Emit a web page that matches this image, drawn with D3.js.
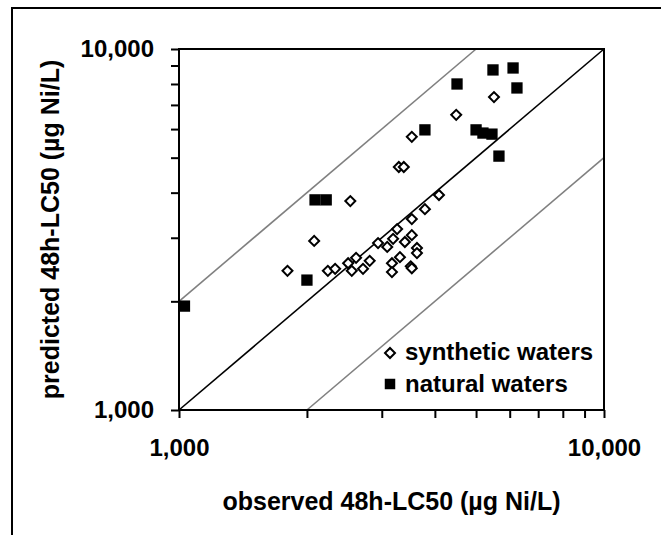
<!DOCTYPE html>
<html>
<head>
<meta charset="utf-8">
<script src="https://cdn.jsdelivr.net/npm/d3@7"></script>
<style>
  body { margin: 0; background: #fff; }
  svg { display: block; }
  text { font-family: "Liberation Sans", Arial, sans-serif; font-weight: bold; fill: #000; }
</style>
</head>
<body>
<svg id="chart" width="661" height="535"></svg>
<script>
// observed vs predicted 48h-LC50 (ug Ni/L)
var synthObserved  = [5510, 4490, 3530, 3290, 3380, 2530, 4090, 3790, 3530, 3260, 2080, 1800, 2240, 2330, 2500, 2550,
                      2610, 3190, 2940, 3090, 3400, 3530, 3630, 3630, 3310, 3170, 3170, 3510, 3530, 2810, 2710];
var synthPredicted = [7360, 6570, 5710, 4710, 4710, 3790, 3940, 3600, 3380, 3170, 2940, 2430, 2430, 2460, 2550, 2430,
                      2640, 2980, 2900, 2830, 2920, 3050, 2810, 2720, 2650, 2550, 2410, 2500, 2470, 2590, 2460];
var natObserved  = [5480, 6110, 4510, 6240, 3790, 5000, 5190, 5450, 5660, 2090, 2220, 2000, 1030];
var natPredicted = [8750, 8860, 8000, 7800, 5970, 5970, 5850, 5810, 5050, 3820, 3820, 2290, 1940];

var axisDomain = [1000, 10000];
var tickValues = [1000, 2000, 3000, 4000, 5000, 6000, 7000, 8000, 9000, 10000];
var labelledTicks = [1000, 10000];
var ratioLines = [0.5, 1, 2];   // predicted = ratio * observed

var svg = d3.select("#chart");

// outer chart border (runs off the right and bottom edge)
svg.append("rect")
    .attr("x", 12).attr("y", 8)
    .attr("width", 700).attr("height", 600)
    .attr("fill", "none").attr("stroke", "#000").attr("stroke-width", 2);

var pLeft = 179, pRight = 604, pTop = 49, pBottom = 410;

var x = d3.scaleLog().domain(axisDomain).range([pLeft, pRight]);
var y = d3.scaleLog().domain(axisDomain).range([pBottom, pTop]);

var fmt = d3.format(",");
var tickFmt = d => labelledTicks.includes(d) ? fmt(d) : "";

// x axis
var gx = svg.append("g")
    .attr("transform", `translate(0,${pBottom})`)
    .call(d3.axisBottom(x).tickValues(tickValues).tickFormat(tickFmt)
        .tickSize(8).tickSizeOuter(0).tickPadding(21));
gx.select(".domain").remove();
gx.selectAll("line").attr("stroke-width", 2);
gx.selectAll("text").attr("font-size", 24);

// y axis
var gy = svg.append("g")
    .attr("transform", `translate(${pLeft},0)`)
    .call(d3.axisLeft(y).tickValues(tickValues).tickFormat(tickFmt)
        .tickSize(8).tickSizeOuter(0).tickPadding(17));
gy.select(".domain").remove();
gy.selectAll("line").attr("stroke-width", 2);
gy.selectAll("text").attr("font-size", 24);

// ratio lines (1:1 black, 2x gray)
var clipped = ratioLines.map(r => {
    var x0 = Math.max(axisDomain[0], axisDomain[0] / r);
    var x1 = Math.min(axisDomain[1], axisDomain[1] / r);
    return {r: r, pts: [[x0, x0 * r], [x1, x1 * r]]};
});
svg.append("g")
    .selectAll("line")
    .data(clipped)
    .join("line")
    .attr("x1", d => x(d.pts[0][0])).attr("y1", d => y(d.pts[0][1]))
    .attr("x2", d => x(d.pts[1][0])).attr("y2", d => y(d.pts[1][1]))
    .attr("stroke", d => d.r === 1 ? "#000" : "#808080")
    .attr("stroke-width", 1.6);

// plot frame
svg.append("rect")
    .attr("x", pLeft).attr("y", pTop)
    .attr("width", pRight - pLeft).attr("height", pBottom - pTop)
    .attr("fill", "none").attr("stroke", "#000").attr("stroke-width", 2);

var diamond = d3.symbol(d3.symbolSquare, 50);
var square = d3.symbol(d3.symbolSquare, 128);

// natural waters
svg.append("g")
    .selectAll("path")
    .data(natObserved.map((o, i) => [o, natPredicted[i]]))
    .join("path")
    .attr("transform", d => `translate(${x(d[0])},${y(d[1])})`)
    .attr("d", square)
    .attr("fill", "#000");

// synthetic waters
svg.append("g")
    .selectAll("path")
    .data(synthObserved.map((o, i) => [o, synthPredicted[i]]))
    .join("path")
    .attr("transform", d => `translate(${x(d[0])},${y(d[1])}) rotate(45)`)
    .attr("d", diamond)
    .attr("fill", "#fff")
    .attr("stroke", "#000")
    .attr("stroke-width", 2);

// legend
var legend = svg.append("g").attr("transform", "translate(390,353)");
legend.append("path")
    .attr("transform", "rotate(45)")
    .attr("d", diamond)
    .attr("fill", "#fff").attr("stroke", "#000").attr("stroke-width", 2);
legend.append("text").attr("x", 15).attr("y", 7).attr("font-size", 24).text("synthetic waters");
legend.append("path")
    .attr("transform", "translate(0,31)")
    .attr("d", d3.symbol(d3.symbolSquare, 110))
    .attr("fill", "#000");
legend.append("text").attr("x", 15).attr("y", 39).attr("font-size", 24).text("natural waters");

// axis titles
svg.append("text")
    .attr("x", (pLeft + pRight) / 2).attr("y", 510)
    .attr("text-anchor", "middle")
    .attr("font-size", 25)
    .text("observed 48h-LC50 (µg Ni/L)");

svg.append("text")
    .attr("transform", `translate(59,${(pTop + pBottom) / 2}) rotate(-90)`)
    .attr("text-anchor", "middle")
    .attr("font-size", 25)
    .text("predicted 48h-LC50 (µg Ni/L)");
</script>
</body>
</html>
